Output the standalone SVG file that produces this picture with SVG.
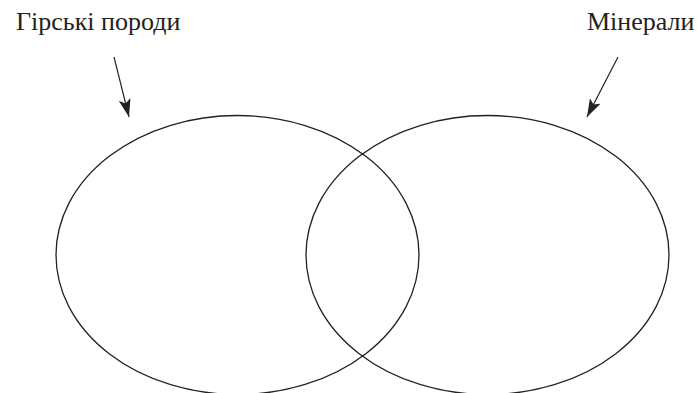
<svg xmlns="http://www.w3.org/2000/svg" width="698" height="393" viewBox="0 0 698 393">
<style>
.set{fill:none;stroke:#222;stroke-width:1.3}
.lbl{font-size:26px;fill:#222}
.arr{stroke:#222;stroke-width:1.2;fill:none}
</style>
<defs>
<marker id="ah" markerWidth="20" markerHeight="12" refX="18" refY="6" orient="auto" markerUnits="userSpaceOnUse">
<path d="M0,0 L18,6 L0,12 L4,6 Z" fill="#222"/>
</marker>
</defs>
<rect width="698" height="393" fill="#fff"/>
<g id="rocks">
<ellipse class="set" cx="237.5" cy="255" rx="181.5" ry="139.5"/>
<text class="lbl" font-family="'Liberation Serif', 'DejaVu Serif', serif" x="16" y="30">Гірські породи</text>
</g>
<g id="minerals">
<ellipse class="set" cx="487.5" cy="255" rx="181.5" ry="139.5"/>
<text class="lbl" font-family="'Liberation Serif', 'DejaVu Serif', serif" x="587" y="30">Мінерали</text>
</g>
<g id="connectors">
<line class="arr" x1="114" y1="57" x2="129" y2="117" marker-end="url(#ah)"/>
<line class="arr" x1="618" y1="57" x2="587" y2="117" marker-end="url(#ah)"/>
</g>
</svg>
